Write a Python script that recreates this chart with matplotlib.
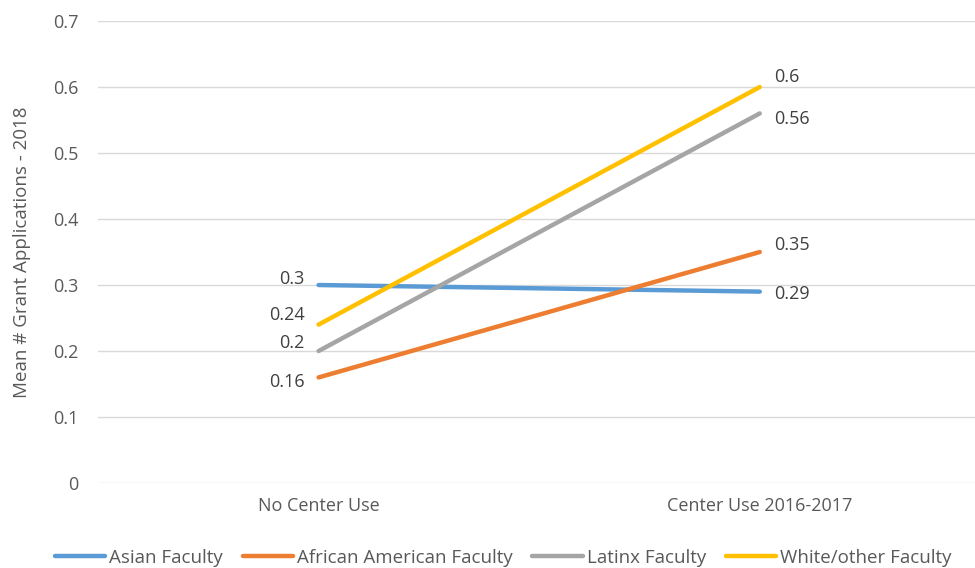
import matplotlib
matplotlib.use("Agg")
import matplotlib.pyplot as plt
from matplotlib import font_manager

categories = ["No Center Use", "Center Use 2016-2017"]
series_names = ["Asian Faculty", "African American Faculty", "Latinx Faculty", "White/other Faculty"]
asian = [0.3, 0.29]
african_american = [0.16, 0.35]
latinx = [0.2, 0.56]
white_other = [0.24, 0.6]
yticks = [0, 0.1, 0.2, 0.3, 0.4, 0.5, 0.6, 0.7]
ytick_labels = ["0", "0.1", "0.2", "0.3", "0.4", "0.5", "0.6", "0.7"]

series = [asian, african_american, latinx, white_other]
colors = ["#5B9BD5", "#ED7D31", "#A5A5A5", "#FFC000"]
# label offsets (points) for left/right labels
left_off = [(-10, 4), (-10, -3), (-10, 6), (-10, 7)]
right_off = [(10, -2), (10, 5), (10, -4), (10, 7)]

names = {f.name for f in font_manager.fontManager.ttflist}
main_font = ["Open Sans", "DejaVu Sans"]
leg_font = ["Liberation Sans Narrow", "Open Sans", "DejaVu Sans"] if "Liberation Sans Narrow" in names else ["Open Sans", "DejaVu Sans"]

fig = plt.figure(figsize=(9.75, 5.68), dpi=100)
ax = fig.add_axes([0.1005, 0.1496, 0.905, 0.8134])
x = list(range(len(categories)))
lines = []
for s, c, name in zip(series, colors, series_names):
    ln, = ax.plot(x, s, color=c, lw=3.2, solid_capstyle="round", label=name)
    lines.append(ln)

for s, lo, ro in zip(series, left_off, right_off):
    ax.annotate(f"{s[0]:g}", (x[0], s[0]), xytext=lo, textcoords="offset points",
                ha="right", va="center", fontsize=13, color="#404040", family=main_font)
    ax.annotate(f"{s[1]:g}", (x[1], s[1]), xytext=ro, textcoords="offset points",
                ha="left", va="center", fontsize=13, color="#404040", family=main_font)

ax.set_xlim(-0.5, 1.5)
ax.set_ylim(0, 0.7)
ax.set_yticks(yticks)
ax.set_yticklabels(ytick_labels, family=main_font, fontsize=13, color="#595959")
ax.set_xticks(x)
ax.set_xticklabels(categories, family=main_font, fontsize=13, color="#595959")
ax.tick_params(axis="y", length=0, pad=14)
ax.tick_params(axis="x", length=0, pad=10)
ax.grid(axis="y", color="#D9D9D9", lw=1)
ax.set_axisbelow(True)
for sp in ax.spines.values():
    sp.set_visible(False)
ax.set_ylabel("Mean # Grant Applications - 2018", family=main_font, fontsize=13.5, color="#595959", labelpad=16)

leg = fig.legend(lines, series_names, loc="center", bbox_to_anchor=(0.516, 0.018), ncol=4,
                 frameon=False, handlelength=2.7, columnspacing=1.05, handletextpad=0.2,
                 prop={"family": leg_font, "size": 13.5})
for t in leg.get_texts():
    t.set_color("#595959")

fig.savefig("out.png", dpi=100)
